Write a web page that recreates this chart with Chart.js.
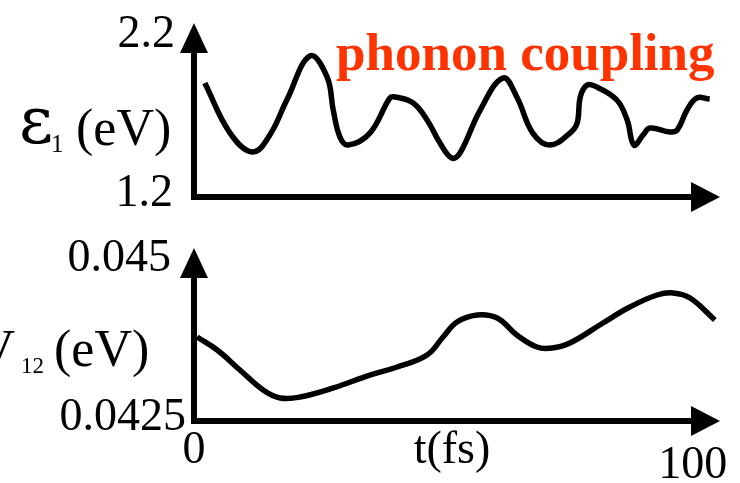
<!DOCTYPE html>
<html>
<head>
<meta charset="utf-8">
<script src="https://cdn.jsdelivr.net/npm/chart.js@4.4.0/dist/chart.umd.min.js"></script>
<style>
  html, body { margin: 0; padding: 0; background: #fff; }
  #wrap { position: relative; width: 740px; height: 483px; overflow: hidden; }
  #wrap canvas { position: absolute; left: 0; top: 0; }
</style>
</head>
<body>
<div id="wrap">
  <canvas id="energyChart" width="740" height="483"></canvas>
  <canvas id="couplingChart" width="740" height="483"></canvas>
</div>
<script>
// eps_1 (eV) vs t (fs)
const energyTime = [2.1, 7.0, 11.4, 14.7, 18.0, 22.5, 25.8, 27.0, 28.3, 29.9,
  34.1, 38.0, 39.0, 42.5, 45.2, 47.7, 50.0, 51.6, 55.5, 59.9,
  62.6, 65.7, 69.0, 72.9, 74.3, 74.9, 76.2, 78.1, 82.0, 84.0,
  85.3, 87.1, 88.4, 92.3, 93.7, 95.6, 97.5, 100];
const energyEV = [1.873, 1.558, 1.439, 1.546, 1.766, 2.043, 1.911, 1.703, 1.533, 1.483,
  1.558, 1.779, 1.785, 1.747, 1.640, 1.496, 1.401, 1.433, 1.703, 1.904,
  1.785, 1.558, 1.483, 1.558, 1.621, 1.785, 1.860, 1.848, 1.766, 1.640,
  1.483, 1.546, 1.590, 1.565, 1.577, 1.703, 1.779, 1.772];

// V_12 (eV) vs t (fs)
const couplingTime = [0.6, 4.5, 8.9, 13.4, 16.7, 20.6, 27.0, 34.1, 39.4, 45.2,
  48.3, 51.0, 54.9, 58.8, 62.6, 66.5, 69.4, 72.9, 79.3, 84.5,
  89.8, 92.9, 96.2, 101];
const couplingEV = [0.043711, 0.043506, 0.043192, 0.042877, 0.042752, 0.042767, 0.042909, 0.043113, 0.043239, 0.043428,
  0.043711, 0.043947, 0.044057, 0.044009, 0.043742, 0.043553, 0.043538, 0.043616, 0.043931, 0.044182,
  0.044371, 0.044403, 0.044324, 0.043978];

const energyTicks = [1.2, 2.2];
const energyTickLabels = ["1.2", "2.2"];
const couplingTicks = [0.0425, 0.045];
const couplingTickLabels = ["0.0425", "0.045"];
const timeTicks = [0, 100];
const timeTickLabels = ["0", "100"];

const SERIF = '"Liberation Serif", "Times New Roman", serif';

// arrow axes + all the text, drawn on top of the curve
const schematicAxes = {
  id: "schematicAxes",
  afterDatasetsDraw(chart, args, o) {
    const ctx = chart.ctx;
    const xs = chart.scales.x, ys = chart.scales.y;
    const x0 = xs.getPixelForValue(0);
    const xEnd = xs.right;
    const yAxis = ys.bottom + o.axisGap;
    const yTip = ys.top - o.tipGap;

    ctx.save();
    ctx.strokeStyle = "#000";
    ctx.fillStyle = "#000";
    ctx.lineWidth = 6;
    ctx.lineJoin = "miter";
    ctx.beginPath();
    ctx.moveTo(x0, yTip + 28);
    ctx.lineTo(x0, yAxis);
    ctx.lineTo(xEnd - 27, yAxis);
    ctx.stroke();

    ctx.beginPath();
    ctx.moveTo(x0, yTip);
    ctx.lineTo(x0 - 14, yTip + 30);
    ctx.lineTo(x0 + 14, yTip + 30);
    ctx.closePath();
    ctx.fill();

    ctx.beginPath();
    ctx.moveTo(xEnd, yAxis);
    ctx.lineTo(xEnd - 29, yAxis - 15);
    ctx.lineTo(xEnd - 29, yAxis + 15);
    ctx.closePath();
    ctx.fill();

    ctx.font = "46px " + SERIF;
    ctx.textAlign = "right";
    ctx.textBaseline = "alphabetic";
    o.ticks.forEach((v, i) => {
      ctx.fillText(o.tickLabels[i], o.tickRight[i], ys.getPixelForValue(v) + 16);
    });

    if (o.xTicks) {
      ctx.textAlign = "center";
      o.xTicks.forEach((v, i) => {
        ctx.fillText(o.xTickLabels[i], xs.getPixelForValue(v) + o.xTickShift[i], o.xTickBase[i]);
      });
    }

    (o.texts || []).forEach(t => {
      ctx.font = t.font;
      ctx.fillStyle = t.color || "#000";
      ctx.textAlign = t.align || "left";
      ctx.fillText(t.text, t.x, t.y);
    });
    ctx.restore();
  }
};

function makeChart(id, times, values, yMin, yMax, pad, axisOpts) {
  const ctx = document.getElementById(id).getContext("2d");
  return new Chart(ctx, {
    type: "line",
    data: {
      datasets: [{
        data: times.map((t, i) => ({ x: t, y: values[i] })),
        borderColor: "#000",
        borderWidth: 5.5,
        pointRadius: 0,
        fill: false,
        tension: 0.4,
        clip: false
      }]
    },
    options: {
      responsive: false,
      animation: false,
      events: [],
      layout: { padding: pad },
      plugins: {
        legend: { display: false },
        tooltip: { enabled: false },
        schematicAxes: axisOpts
      },
      scales: {
        x: { type: "linear", min: 0, max: 102, display: false },
        y: { type: "linear", min: yMin, max: yMax, display: false }
      }
    },
    plugins: [schematicAxes]
  });
}

makeChart("energyChart", energyTime, energyEV, 1.2, 2.2,
  { left: 194, right: 20, top: 31, bottom: 293 },
  {
    axisGap: 7, tipGap: 8,
    ticks: energyTicks, tickLabels: energyTickLabels, tickRight: [173, 175],
    texts: [
      { text: "\u03b5", font: '66px "DejaVu Serif", serif', x: 19, y: 143 },
      { text: "1", font: "25px " + SERIF, x: 51, y: 152 },
      { text: "(eV)", font: "52px " + SERIF, x: 76, y: 145 },
      { text: "phonon coupling", font: "bold 53px " + SERIF, color: "#FF3300", x: 336, y: 70 }
    ]
  });

makeChart("couplingChart", couplingTime, couplingEV, 0.0425, 0.045,
  { left: 194, right: 20, top: 255, bottom: 69 },
  {
    axisGap: 7, tipGap: 7,
    ticks: couplingTicks, tickLabels: couplingTickLabels, tickRight: [186, 171],
    xTicks: timeTicks, xTickLabels: timeTickLabels, xTickShift: [0, -17], xTickBase: [463, 478],
    texts: [
      { text: "V", font: "52px " + SERIF, x: 15, y: 366, align: "right" },
      { text: "12", font: "23px " + SERIF, x: 21, y: 373 },
      { text: "(eV)", font: "52px " + SERIF, x: 54, y: 366 },
      { text: "t(fs)", font: "46px " + SERIF, x: 452, y: 463, align: "center" }
    ]
  });
</script>
</body>
</html>
